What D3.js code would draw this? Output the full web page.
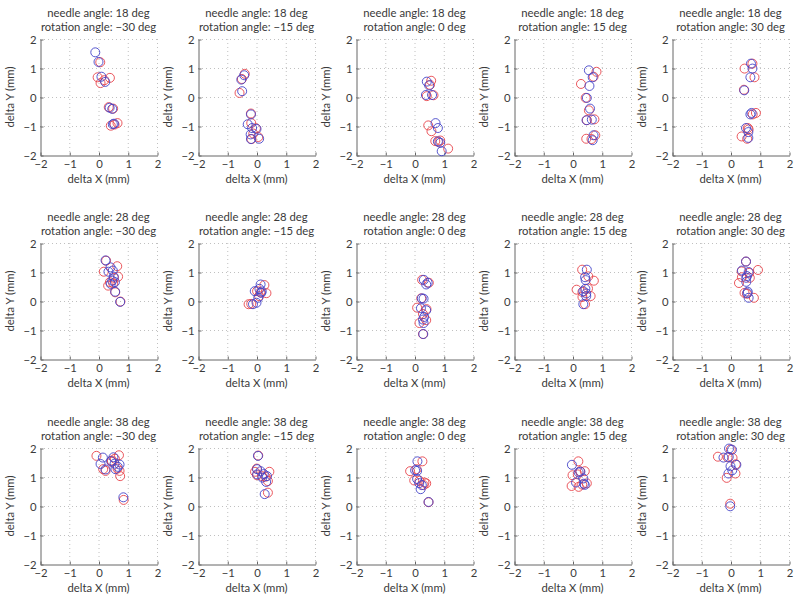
<!DOCTYPE html>
<html>
<head>
<meta charset="utf-8">
<script src="https://cdn.jsdelivr.net/npm/d3@7"></script>
<style>
  body { margin: 0; background: #fff; }
  text { font-family: Lato, "Open Sans", sans-serif; fill: #3a3a3a; }
</style>
</head>
<body>
<svg id="chart" width="800" height="602"></svg>
<script>
// Panel grid: rows are needle angles, columns are rotation angles
var needleAngles = [18, 28, 38];
var rotationAngles = [-30, -15, 0, 15, 30];
var tickValues = [-2, -1, 0, 1, 2];

// Measured offsets (delta X, delta Y in mm), red and blue series per panel
var red_18_m30 = [[0.06,1.2],[-0.03,0.68],[0.07,0.48],[0.39,0.66],[0.2,0.58],[0.35,-0.35],[0.5,-0.4],[0.42,-0.99],[0.65,-0.9],[0.55,-0.95]];
var blue_18_m30 = [[-0.11,1.54],[0.0,1.21],[0.1,0.7],[0.23,0.52],[0.38,-0.37],[0.47,-0.41],[0.49,-0.94],[0.53,-0.92]];
var red_18_m15 = [[-0.4,0.8],[-0.5,0.62],[-0.58,0.14],[-0.19,-0.57],[-0.18,-0.9],[-0.02,-1.08],[-0.11,-1.26],[-0.17,-1.45],[0.06,-1.38]];
var blue_18_m15 = [[-0.42,0.75],[-0.52,0.6],[-0.49,0.2],[-0.19,-0.6],[-0.3,-0.94],[-0.15,-1.07],[0.0,-1.1],[-0.2,-1.29],[-0.19,-1.45],[0.09,-1.44]];
var red_18_0 = [[0.57,0.56],[0.53,0.42],[0.42,0.03],[0.65,0.06],[0.47,-0.98],[0.58,-1.18],[0.71,-1.52],[0.88,-1.5],[0.82,-1.55],[1.15,-1.78]];
var blue_18_0 = [[0.42,0.53],[0.5,0.4],[0.39,0.07],[0.6,0.07],[0.72,-0.9],[0.8,-1.07],[0.8,-1.53],[0.88,-1.58],[0.93,-1.87]];
var red_18_15 = [[0.82,0.87],[0.72,0.7],[0.29,0.45],[0.45,-0.03],[0.56,-0.46],[0.49,-0.8],[0.75,-0.77],[0.47,-1.44],[0.78,-1.32],[0.65,-1.45]];
var blue_18_15 = [[0.56,0.92],[0.69,0.68],[0.58,0.38],[0.49,-0.03],[0.6,-0.4],[0.48,-0.8],[0.66,-0.78],[0.72,-1.32],[0.69,-1.49]];
var red_18_30 = [[0.75,1.15],[0.48,0.98],[0.82,0.68],[0.46,0.25],[0.87,-0.55],[0.76,-0.6],[0.59,-1.07],[0.62,-1.12],[0.38,-1.36],[0.57,-1.44]];
var blue_18_30 = [[0.7,1.15],[0.75,0.98],[0.68,0.68],[0.47,0.23],[0.72,-0.55],[0.68,-0.6],[0.53,-1.07],[0.61,-1.21],[0.61,-1.41]];
var red_28_m30 = [[0.26,1.39],[0.18,1.01],[0.64,1.2],[0.67,0.84],[0.53,0.8],[0.39,0.65],[0.33,0.53],[0.5,0.61],[0.57,0.3],[0.75,-0.02]];
var blue_28_m30 = [[0.24,1.4],[0.34,1.01],[0.41,1.16],[0.49,1.05],[0.52,0.84],[0.47,0.7],[0.42,0.59],[0.56,0.65],[0.57,0.32],[0.74,-0.03]];
var red_28_m15 = [[0.27,0.55],[0.02,0.34],[0.34,0.27],[0.09,0.17],[-0.27,-0.11],[-0.18,-0.1],[0.13,0.3]];
var blue_28_m15 = [[0.14,0.57],[0.1,0.42],[-0.06,0.34],[0.18,0.33],[0.16,0.28],[0.06,0.11],[-0.12,-0.11],[0.0,-0.06]];
var red_28_0 = [[0.26,0.73],[0.49,0.63],[0.23,0.09],[0.09,-0.23],[0.41,-0.28],[0.29,-0.45],[0.4,-0.66],[0.17,-0.76],[0.29,-1.14]];
var blue_28_0 = [[0.32,0.73],[0.45,0.63],[0.4,0.57],[0.25,0.09],[0.31,0.08],[0.22,-0.25],[0.4,-0.32],[0.33,-0.55],[0.29,-0.64],[0.31,-0.76],[0.3,-1.14]];
var red_28_15 = [[0.33,1.08],[0.54,0.85],[0.73,0.7],[0.14,0.39],[0.34,0.31],[0.53,0.43],[0.34,0.14],[0.62,0.17],[0.43,-0.11]];
var blue_28_15 = [[0.49,1.08],[0.43,0.82],[0.45,0.72],[0.37,0.34],[0.44,0.42],[0.47,0.26],[0.47,0.17],[0.37,-0.11]];
var red_28_30 = [[0.53,1.36],[0.38,1.02],[0.94,1.07],[0.64,0.97],[0.66,0.8],[0.39,0.82],[0.29,0.62],[0.48,0.28],[0.56,0.25],[0.8,0.11]];
var blue_28_30 = [[0.53,1.36],[0.39,1.05],[0.62,1.0],[0.56,0.86],[0.54,0.8],[0.54,0.66],[0.59,0.32],[0.58,0.27],[0.62,0.11]];
var red_38_m30 = [[-0.07,1.73],[0.16,1.27],[0.24,1.21],[0.45,1.57],[0.56,1.63],[0.7,1.75],[0.45,1.52],[0.65,1.29],[0.74,1.03],[0.72,1.21],[0.86,0.21]];
var blue_38_m30 = [[0.15,1.67],[0.07,1.45],[0.24,1.26],[0.43,1.55],[0.51,1.68],[0.55,1.46],[0.72,1.43],[0.58,1.27],[0.66,1.35],[0.85,0.3]];
var red_38_m15 = [[0.06,1.74],[0.01,1.29],[-0.05,1.18],[0.02,1.06],[0.19,1.03],[0.31,1.01],[0.44,1.18],[0.39,0.86],[0.39,0.46]];
var blue_38_m15 = [[0.05,1.73],[0.02,1.27],[0.02,1.09],[0.14,1.2],[0.25,1.1],[0.36,1.03],[0.33,0.83],[0.2,0.98],[0.28,0.41]];
var red_38_0 = [[0.27,1.54],[-0.15,1.2],[0.07,1.27],[-0.01,0.88],[0.17,0.87],[0.34,0.81],[0.4,0.78],[0.31,0.72],[0.48,0.13]];
var blue_38_0 = [[0.1,1.54],[0.02,1.23],[0.09,1.21],[0.09,0.93],[0.16,0.79],[0.25,0.72],[0.21,0.58],[0.48,0.14]];
var red_38_15 = [[0.2,1.54],[0.0,1.06],[0.26,1.2],[0.42,1.2],[0.18,1.09],[-0.03,0.69],[0.21,0.66],[0.49,0.78],[0.33,0.74]];
var blue_38_15 = [[-0.02,1.42],[0.21,1.16],[0.27,1.18],[0.37,0.95],[0.12,0.81],[0.39,0.77],[0.42,0.73]];
var red_38_30 = [[0.01,1.95],[-0.43,1.7],[-0.1,1.68],[0.07,1.66],[0.18,1.44],[0.17,1.12],[-0.13,0.97],[-0.01,0.08]];
var blue_38_30 = [[-0.05,1.98],[0.05,1.94],[-0.24,1.67],[-0.06,1.69],[0.0,1.37],[0.2,1.42],[0.06,1.23],[-0.07,1.12],[-0.01,-0.01]];

var redSeries = [
  [red_18_m30, red_18_m15, red_18_0, red_18_15, red_18_30],
  [red_28_m30, red_28_m15, red_28_0, red_28_15, red_28_30],
  [red_38_m30, red_38_m15, red_38_0, red_38_15, red_38_30]
];
var blueSeries = [
  [blue_18_m30, blue_18_m15, blue_18_0, blue_18_15, blue_18_30],
  [blue_28_m30, blue_28_m15, blue_28_0, blue_28_15, blue_28_30],
  [blue_38_m30, blue_38_m15, blue_38_0, blue_38_15, blue_38_30]
];

// Layout
var colLeft = [40, 198, 356, 514, 672];
var rowTop = [39, 243, 448];
var plotW = 117;
var plotH = 116;
var red = '#e8444b';
var blue = '#4444c8';
var fontSize = '11.3px';

var svg = d3.select('#chart');
var fmt = function (d) { return d3.format('d')(d); };

var x = d3.scaleLinear().domain([-2, 2]).range([0, plotW]);
var y = d3.scaleLinear().domain([-2, 2]).range([plotH, 0]);

needleAngles.forEach(function (needle, r) {
  rotationAngles.forEach(function (rot, c) {
    var g = svg.append('g')
      .attr('transform', 'translate(' + colLeft[c] + ',' + rowTop[r] + ')');

    // Dotted grid
    g.selectAll('.vgrid')
      .data(tickValues.slice(1))
      .enter()
      .append('line')
      .attr('x1', function (d) { return x(d) + 0.5; })
      .attr('x2', function (d) { return x(d) + 0.5; })
      .attr('y1', 0)
      .attr('y2', plotH)
      .attr('stroke', '#c0c0c0')
      .attr('stroke-width', 1)
      .attr('stroke-dasharray', '1,3');
    g.selectAll('.hgrid')
      .data(tickValues.slice(1))
      .enter()
      .append('line')
      .attr('y1', function (d) { return y(d) + 0.5; })
      .attr('y2', function (d) { return y(d) + 0.5; })
      .attr('x1', 0)
      .attr('x2', plotW)
      .attr('stroke', '#c0c0c0')
      .attr('stroke-width', 1)
      .attr('stroke-dasharray', '1,3');

    // Axes
    var xAxis = g.append('g')
      .attr('transform', 'translate(0.5,' + (plotH + 0.5) + ')')
      .call(d3.axisBottom(x).tickValues(tickValues).tickFormat(fmt)
        .tickSizeInner(-3).tickSizeOuter(0).tickPadding(4));
    var yAxis = g.append('g')
      .attr('transform', 'translate(0.5,0.5)')
      .call(d3.axisLeft(y).tickValues(tickValues).tickFormat(fmt)
        .tickSizeInner(-3).tickSizeOuter(0).tickPadding(4));
    [xAxis, yAxis].forEach(function (a) {
      a.select('.domain').attr('stroke', '#666');
      a.selectAll('.tick line').attr('stroke', '#666');
      a.selectAll('.tick text')
        .attr('fill', '#3a3a3a')
        .style('font-size', fontSize)
        .style('font-family', 'Lato, "Open Sans", sans-serif');
    });

    // Points
    g.selectAll('.red')
      .data(redSeries[r][c])
      .enter()
      .append('circle')
      .attr('cx', function (d) { return x(d[0]); })
      .attr('cy', function (d) { return y(d[1]); })
      .attr('r', 4.5)
      .attr('fill', 'none')
      .attr('stroke', red)
      .attr('stroke-width', 0.9);
    g.selectAll('.blue')
      .data(blueSeries[r][c])
      .enter()
      .append('circle')
      .attr('cx', function (d) { return x(d[0]); })
      .attr('cy', function (d) { return y(d[1]); })
      .attr('r', 4.5)
      .attr('fill', 'none')
      .attr('stroke', blue)
      .attr('stroke-width', 0.9);

    // Titles and labels
    g.append('text')
      .attr('x', plotW / 2)
      .attr('y', -22)
      .attr('text-anchor', 'middle')
      .style('font-size', fontSize)
      .text('needle angle: ' + needle + ' deg');
    g.append('text')
      .attr('x', plotW / 2)
      .attr('y', -8)
      .attr('text-anchor', 'middle')
      .style('font-size', fontSize)
      .text('rotation angle: ' + fmt(rot) + ' deg');
    g.append('text')
      .attr('x', plotW / 2)
      .attr('y', plotH + 28)
      .attr('text-anchor', 'middle')
      .style('font-size', fontSize)
      .text('delta X (mm)');
    g.append('text')
      .attr('transform', 'translate(-26,' + (plotH / 2) + ') rotate(-90)')
      .attr('text-anchor', 'middle')
      .style('font-size', fontSize)
      .text('delta Y (mm)');
  });
});
</script>
</body>
</html>
